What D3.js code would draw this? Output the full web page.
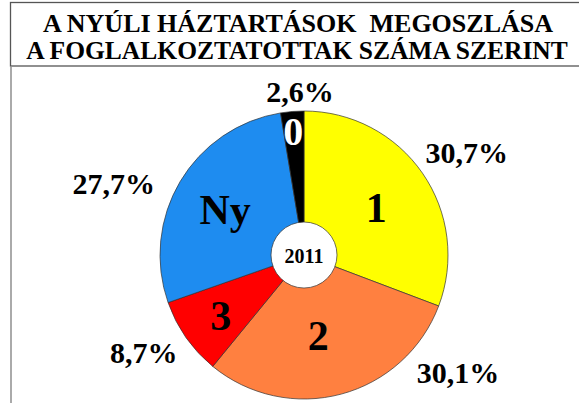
<!DOCTYPE html>
<html><head><meta charset="utf-8">
<script src="https://cdn.jsdelivr.net/npm/d3@7"></script>
<style>body{margin:0;background:#fff}svg{display:block}</style>
</head><body>
<svg id="c" width="579" height="403"></svg>
<script>
const titleLines = ["A NYÚLI HÁZTARTÁSOK  MEGOSZLÁSA", "A FOGLALKOZTATOTTAK SZÁMA SZERINT"];
const categories = ["1", "2", "3", "Ny", "0"];
const values = [30.7, 30.1, 8.7, 27.7, 2.6];
const pctLabels = ["30,7%", "30,1%", "8,7%", "27,7%", "2,6%"];
const colors = ["#FFFF00", "#FF8040", "#FF0000", "#1E8CF0", "#000000"];
const centerLabel = "2011";

const svg = d3.select("#c");
const font = "'Liberation Serif','Times New Roman',serif";

// frame
svg.append("rect").attr("x", 10.5).attr("y", 2.5).attr("width", 600).attr("height", 63.5)
  .attr("fill", "none").attr("stroke", "#555").attr("stroke-width", 1.3);
svg.append("line").attr("x1", 11).attr("x2", 11).attr("y1", 67).attr("y2", 403)
  .attr("stroke", "#aaa").attr("stroke-width", 2);

const titleX = [298, 297], titleY = [32, 59], titleSize = [26, 25.5];
svg.selectAll("text.title").data(titleLines).join("text").attr("class", "title")
  .attr("x", (d, i) => titleX[i]).attr("y", (d, i) => titleY[i])
  .attr("text-anchor", "middle").attr("font-family", font).attr("font-weight", "bold")
  .attr("font-size", (d, i) => titleSize[i]).style("white-space", "pre").text(d => d);

const cx = 304, cy = 255, R = 144, r0 = 33;
const pie = d3.pie().sort(null).value(d => d.v);
const arcs = pie(categories.map((c, i) => ({c, v: values[i], i})));
const arc = d3.arc().innerRadius(0).outerRadius(R);
const g = svg.append("g").attr("transform", `translate(${cx},${cy})`);
g.selectAll("path").data(arcs).join("path")
  .attr("d", arc).attr("fill", d => colors[d.data.i])
  .attr("stroke", "#333").attr("stroke-width", 0.7);
g.append("circle").attr("r", r0).attr("fill", "#fff").attr("stroke", "#333").attr("stroke-width", 0.7);
g.append("text").attr("y", 8).attr("text-anchor", "middle").attr("font-family", font)
  .attr("font-weight", "bold").attr("font-size", 20).text(centerLabel);

const deg = Math.PI / 180;
// inside category labels (angle clockwise from top, radius)
const inAng = [57, 170, 234, 300, 355];
const inR = [86, 82, 103, 91, 124];
const inSize = [42, 42, 42, 42, 40];
g.selectAll("text.cat").data(arcs).join("text").attr("class", "cat")
  .attr("x", d => inR[d.data.i] * Math.sin(inAng[d.data.i] * deg))
  .attr("y", d => -inR[d.data.i] * Math.cos(inAng[d.data.i] * deg) + 14)
  .attr("text-anchor", "middle").attr("font-family", font).attr("font-weight", "bold")
  .attr("font-size", d => inSize[d.data.i])
  .attr("fill", d => d.data.i === 4 ? "#fff" : "#000").text(d => d.data.c);

// outside percent labels
const outAng = [58, 127.5, 238.5, 290.5, 358.6];
const outR = [192, 194, 188, 203, 163];
g.selectAll("text.pct").data(arcs).join("text").attr("class", "pct")
  .attr("x", d => outR[d.data.i] * Math.sin(outAng[d.data.i] * deg))
  .attr("y", d => -outR[d.data.i] * Math.cos(outAng[d.data.i] * deg) + 10)
  .attr("text-anchor", "middle").attr("font-family", font).attr("font-weight", "bold")
  .attr("font-size", 30).text(d => pctLabels[d.data.i]);
</script>
</body></html>
